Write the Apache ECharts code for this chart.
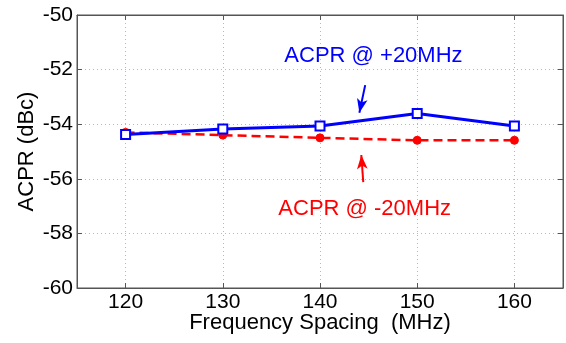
<!DOCTYPE html>
<html>
<head>
<meta charset="utf-8">
<script src="https://cdn.jsdelivr.net/npm/echarts@6/dist/echarts.min.js"></script>
<style>html,body{margin:0;padding:0;background:#fff;}#c{width:566px;height:343px;}</style>
</head>
<body>
<div id="c"></div>
<script>
var freqs = [120, 130, 140, 150, 160];
var acprPlus = [-54.38, -54.18, -54.07, -53.61, -54.07];
var acprMinus = [-54.30, -54.40, -54.50, -54.59, -54.59];
var yTicks = [-60, -58, -56, -54, -52, -50];
var labelPlus = 'ACPR @ +20MHz';
var labelMinus = 'ACPR @ -20MHz';
var plusText = [145.5, -51.5];
var minusText = [144.6, -57.1];
var plusArrow = [[144.65, -52.57], [144.05, -53.58]];
var minusArrow = [[144.45, -56.12], [144.25, -55.13]];

var FONT = 'Liberation Sans, Arial, Helvetica, sans-serif';
var chart = echarts.init(document.getElementById('c'), null, {renderer: 'canvas'});
function pairs(xs, ys){ return xs.map(function(x,i){ return [x, ys[i]]; }); }
var axisCol = '#555';
var option = {
  animation: false,
  backgroundColor: '#fff',
  grid: {left: 77, right: 3, top: 15, bottom: 55, show: true, borderColor: axisCol, borderWidth: 1, containLabel: false},
  xAxis: [{
    type: 'value', min: 115, max: 165, splitNumber: 5,
    position: 'bottom',
    name: 'Frequency Spacing  (MHz)', nameLocation: 'middle', nameGap: 24, nameMoveOverlap: false,
    nameTextStyle: {color: '#000', fontSize: 22, fontFamily: FONT},
    axisLine: {show: true, lineStyle: {color: axisCol, width: 1}},
    axisTick: {show: true, inside: true, length: 5, lineStyle: {color: axisCol}},
    axisLabel: {color: '#000', fontSize: 21, fontFamily: FONT, margin: 4, showMinLabel: false, showMaxLabel: false,
      formatter: function(v){ return freqs.indexOf(v) >= 0 ? String(v) : ''; }},
    splitLine: {show: true, lineStyle: {color: '#b8b8b8', type: [1, 3], width: 1}}
  }, {
    type: 'value', min: 115, max: 165, splitNumber: 5, position: 'top',
    axisLine: {show: true, lineStyle: {color: axisCol}},
    axisTick: {show: true, inside: true, length: 5, lineStyle: {color: axisCol}},
    axisLabel: {show: false}, splitLine: {show: false}
  }],
  yAxis: [{
    type: 'value', min: -60, max: -50, interval: 2,
    name: 'ACPR (dBc)', nameLocation: 'middle', nameGap: 39, nameRotate: 90, nameMoveOverlap: false,
    nameTextStyle: {color: '#000', fontSize: 22, fontFamily: FONT},
    axisLine: {show: true, lineStyle: {color: axisCol}},
    axisTick: {show: true, inside: true, length: 5, lineStyle: {color: axisCol}},
    axisLabel: {color: '#000', fontSize: 21, fontFamily: FONT, margin: 4,
      formatter: function(v){ return yTicks.indexOf(v) >= 0 ? String(v) : ''; }},
    splitLine: {show: true, lineStyle: {color: '#b8b8b8', type: [1, 3], width: 1}}
  }, {
    type: 'value', min: -60, max: -50, interval: 2, position: 'right',
    axisLine: {show: true, lineStyle: {color: axisCol}},
    axisTick: {show: true, inside: true, length: 5, lineStyle: {color: axisCol}},
    axisLabel: {show: false}, splitLine: {show: false}
  }],
  series: [{
    name: labelMinus, type: 'line', data: pairs(freqs, acprMinus),
    symbol: 'circle', symbolSize: 8,
    lineStyle: {color: '#ff0000', width: 2.5, type: [9, 5]},
    itemStyle: {color: '#ff0000', borderColor: '#ff0000'},
    z: 2,
    markLine: {
      silent: true, symbol: ['none', 'arrow'], symbolSize: [8, 14],
      label: {show: false},
      lineStyle: {color: '#ff0000', width: 2, type: 'solid'},
      data: [[{coord: minusArrow[0]}, {coord: minusArrow[1]}]]
    },
    markPoint: {
      silent: true, symbol: 'circle', symbolSize: 0,
      label: {show: true, formatter: labelMinus, color: '#ff0000', fontSize: 22, fontFamily: FONT, position: 'inside'},
      data: [{coord: minusText}]
    }
  }, {
    name: labelPlus, type: 'line', data: pairs(freqs, acprPlus),
    symbol: 'rect', symbolSize: 9,
    lineStyle: {color: '#0000ff', width: 3},
    itemStyle: {color: '#ffffff', borderColor: '#0000ff', borderWidth: 2},
    z: 3,
    markLine: {
      silent: true, symbol: ['none', 'arrow'], symbolSize: [8, 14],
      label: {show: false},
      lineStyle: {color: '#0000ff', width: 2, type: 'solid'},
      data: [[{coord: plusArrow[0]}, {coord: plusArrow[1]}]]
    },
    markPoint: {
      silent: true, symbol: 'circle', symbolSize: 0,
      label: {show: true, formatter: labelPlus, color: '#0000ff', fontSize: 22, fontFamily: FONT, position: 'inside'},
      data: [{coord: plusText}]
    }
  }]
};
chart.setOption(option);
</script>
</body>
</html>
